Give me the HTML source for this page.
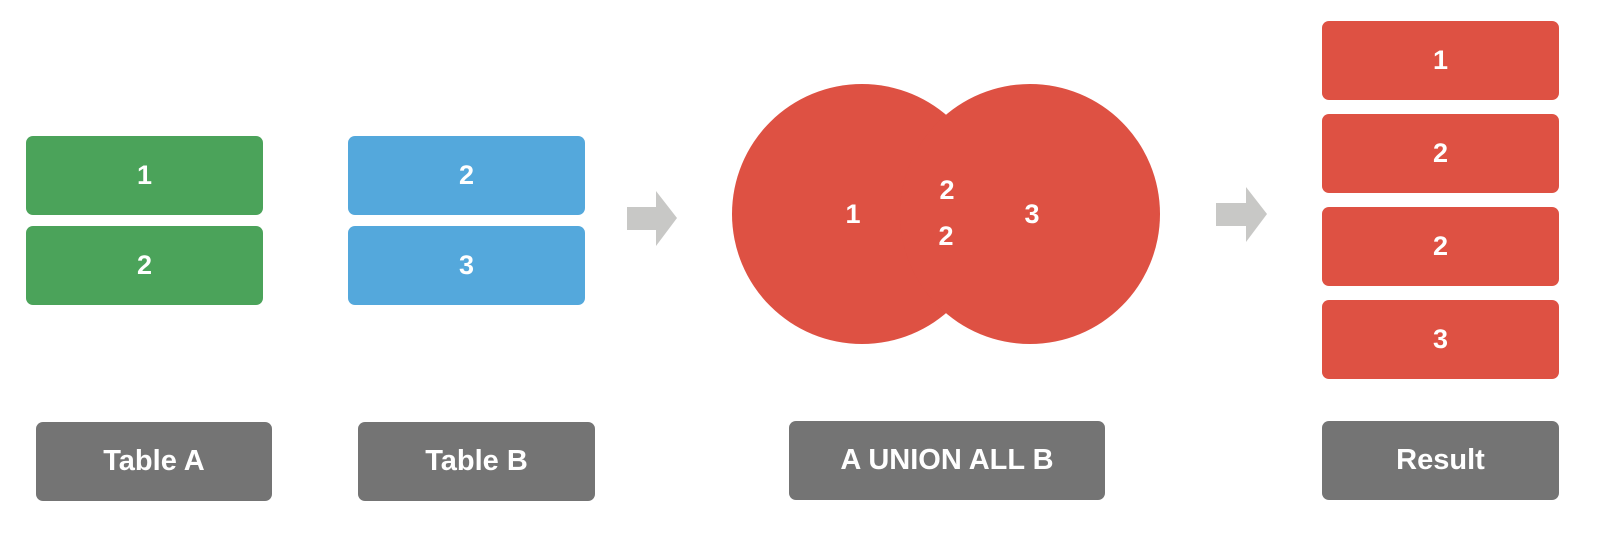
<!DOCTYPE html>
<html><head><meta charset="utf-8"><style>
html,body{margin:0;padding:0;background:#fff}
body{width:1598px;height:544px;position:relative;overflow:hidden;font-family:"Liberation Sans",sans-serif;font-weight:bold;color:#fff}
.b{position:absolute;border-radius:7px;display:flex;align-items:center;justify-content:center;font-size:27px}
.g{background:#4ba35a}.bl{background:#54a8dc}.r{background:#de5143}.gr{background:#747474;font-size:29px}
</style></head><body>
<div class="b g" style="left:26px;top:136px;width:237px;height:79px">1</div>
<div class="b g" style="left:26px;top:226px;width:237px;height:79px">2</div>
<div class="b bl" style="left:348px;top:136px;width:237px;height:79px">2</div>
<div class="b bl" style="left:348px;top:226px;width:237px;height:79px">3</div>
<div class="b gr" style="left:36px;top:422px;width:236px;height:79px">Table A</div>
<div class="b gr" style="left:358px;top:422px;width:237px;height:79px">Table B</div>
<div class="b gr" style="left:789px;top:421px;width:316px;height:79px">A UNION ALL B</div>
<div class="b gr" style="left:1322px;top:421px;width:237px;height:79px">Result</div>
<div class="b r" style="left:1322px;top:21px;width:237px;height:79px">1</div>
<div class="b r" style="left:1322px;top:114px;width:237px;height:79px">2</div>
<div class="b r" style="left:1322px;top:207px;width:237px;height:79px">2</div>
<div class="b r" style="left:1322px;top:300px;width:237px;height:79px">3</div>
<svg width="1598" height="544" style="position:absolute;left:0;top:0">
<polygon points="627,207 656,207 656,191 677,218 656,246 656,230 627,230" fill="#c8c8c6"/>
<polygon points="1216,203 1246,203 1246,187 1267,214 1246,242 1246,226 1216,226" fill="#c8c8c6"/>
<circle cx="862" cy="214" r="130" fill="#de5143"/>
<circle cx="1030" cy="214" r="130" fill="#de5143"/>
<g font-family="Liberation Sans" font-weight="bold" font-size="27" fill="#fff" text-anchor="middle">
<text x="853" y="223">1</text>
<text x="947" y="199">2</text>
<text x="946" y="245">2</text>
<text x="1032" y="223">3</text>
</g>
</svg>
</body></html>
